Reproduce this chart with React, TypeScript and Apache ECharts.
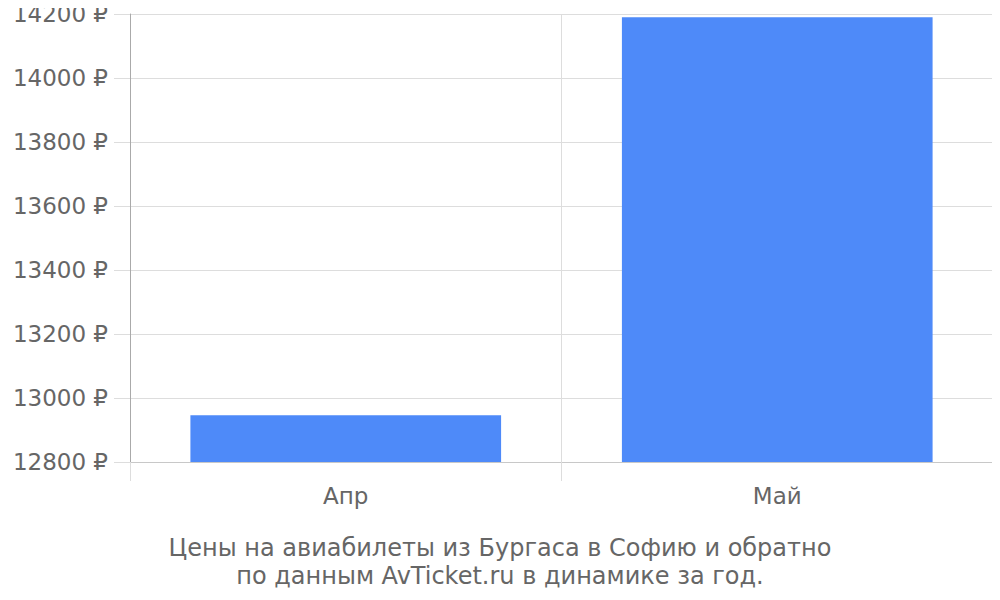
import { useEffect, useRef } from 'react';
import * as echarts from 'echarts';

// месяцы и цены
const months = ['Апр', 'Май'];
const prices = [12946, 14190];

const yMin = 12800;
const yMax = 14200;
const yStep = 200;

const titleLines = [
  'Цены на авиабилеты из Бургаса в Софию и обратно',
  'по данным AvTicket.ru в динамике за год.'
];

const App = () => {
  const chartRef = useRef<HTMLDivElement>(null);

  useEffect(() => {
    if (!chartRef.current) return;
    const chart = echarts.init(chartRef.current, null, { renderer: 'svg' });

    const option: echarts.EChartsOption = {
      animation: false,
      textStyle: { fontFamily: 'DejaVu Sans' },
      title: {
        text: titleLines.join('\n'),
        left: 'center',
        top: 529,
        textStyle: {
          fontSize: 24,
          fontWeight: 'normal',
          color: '#666',
          lineHeight: 28,
          fontFamily: 'DejaVu Sans'
        }
      },
      grid: { left: 130, right: 7, top: 14, bottom: 138 },
      xAxis: {
        type: 'category',
        data: months,
        axisLine: { lineStyle: { color: '#c8c8c8', width: 1 } },
        axisTick: { show: true, length: 19, lineStyle: { color: '#dddddd' } },
        splitLine: { show: true, lineStyle: { color: '#dddddd' } },
        axisLabel: { fontSize: 23, color: '#666', margin: 22 }
      },
      yAxis: {
        type: 'value',
        min: yMin,
        max: yMax,
        interval: yStep,
        axisLine: { show: true, lineStyle: { color: '#aaaaaa' } },
        axisTick: { show: true, length: 16, lineStyle: { color: '#dddddd' } },
        splitLine: { lineStyle: { color: '#dddddd' } },
        axisLabel: {
          fontSize: 23,
          color: '#666',
          margin: 22,
          formatter: (v: number) => `${v} ₽`
        }
      },
      series: [
        {
          type: 'bar',
          data: prices,
          barCategoryGap: '28%',
          itemStyle: { color: '#4e8af9' }
        }
      ]
    };

    chart.setOption(option);
    return () => chart.dispose();
  }, []);

  return <div ref={chartRef} style={{ width: 1000, height: 600, margin: -8 }} />;
};

export default App;
